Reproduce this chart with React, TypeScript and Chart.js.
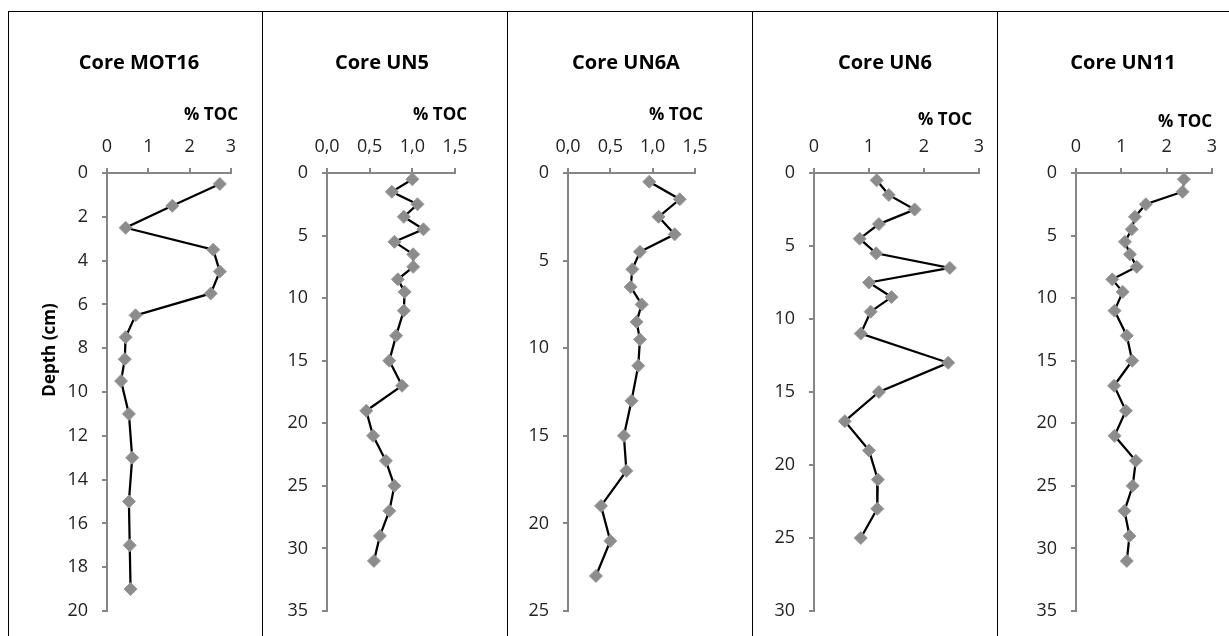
import React, { useEffect, useRef } from 'react';
import { Chart, registerables } from 'chart.js';

Chart.register(...registerables);

// ---------- data ----------
const coreNames = ['Core MOT16', 'Core UN5', 'Core UN6A', 'Core UN6', 'Core UN11'];
const xAxisTitle = '% TOC';
const yAxisTitle = 'Depth (cm)';

const depthMOT16 = [0.5, 1.5, 2.5, 3.5, 4.5, 5.5, 6.5, 7.5, 8.5, 9.5, 11, 13, 15, 17, 19];
const tocMOT16 = [2.73, 1.58, 0.45, 2.57, 2.73, 2.51, 0.69, 0.45, 0.43, 0.34, 0.53, 0.61, 0.53, 0.55, 0.57];

const depthUN5 = [0.5, 1.5, 2.5, 3.5, 4.5, 5.5, 6.5, 7.5, 8.5, 9.5, 11, 13, 15, 17, 19, 21, 23, 25, 27, 29, 31];
const tocUN5 = [1.0, 0.76, 1.06, 0.9, 1.13, 0.79, 1.01, 1.01, 0.83, 0.91, 0.9, 0.81, 0.73, 0.88, 0.46, 0.54, 0.69, 0.79, 0.73, 0.62, 0.55];

const depthUN6A = [0.5, 1.5, 2.5, 3.5, 4.5, 5.5, 6.5, 7.5, 8.5, 9.5, 11, 13, 15, 17, 19, 21, 23];
const tocUN6A = [0.96, 1.32, 1.07, 1.26, 0.85, 0.76, 0.74, 0.87, 0.81, 0.85, 0.83, 0.75, 0.66, 0.69, 0.39, 0.5, 0.33];

const depthUN6 = [0.5, 1.5, 2.5, 3.5, 4.5, 5.5, 6.5, 7.5, 8.5, 9.5, 11, 13, 15, 17, 19, 21, 23, 25];
const tocUN6 = [1.14, 1.36, 1.83, 1.18, 0.83, 1.13, 2.47, 1.0, 1.41, 1.03, 0.85, 2.44, 1.18, 0.56, 1.0, 1.16, 1.15, 0.85];

const depthUN11 = [0.5, 1.5, 2.5, 3.5, 4.5, 5.5, 6.5, 7.5, 8.5, 9.5, 11, 13, 15, 17, 19, 21, 23, 25, 27, 29, 31];
const tocUN11 = [2.38, 2.35, 1.54, 1.3, 1.23, 1.08, 1.19, 1.34, 0.8, 1.03, 0.85, 1.12, 1.24, 0.84, 1.1, 0.85, 1.32, 1.25, 1.07, 1.18, 1.12];

const depthSeries = [depthMOT16, depthUN5, depthUN6A, depthUN6, depthUN11];
const tocSeries = [tocMOT16, tocUN5, tocUN6A, tocUN6, tocUN11];

const tocMax = [3, 1.5, 1.5, 3, 3];
const tocStep = [1, 0.5, 0.5, 1, 1];
const tocDecimals = [0, 1, 1, 0, 0];
const depthMax = [20, 35, 25, 30, 35];
const depthStep = [2, 5, 5, 5, 5];

// ---------- layout (page pixels) ----------
const PAGE_W = 1229;
const PAGE_H = 636;
const TOP_LINE = 11;
const borderXs = [8, 262, 507, 752, 997];
const plotLeft = [107, 327, 568, 814, 1076];
const plotRight = [231, 455, 695, 979, 1212];
const PLOT_TOP = 173;
const PLOT_BOTTOM = 611;
const titleCX = [139, 382, 626, 885, 1123];
const TITLE_CY = 63;
const tocRight = [238, 467, 703, 972, 1212];
const tocCY = [115, 115, 115, 120, 122];
const DEPTH_CX = 50;
const DEPTH_CY = 350;
const Y_W = 60;
const X_H = 50;

const FONT = '"Open Sans", "Liberation Sans", sans-serif';
const AXIS_GRAY = '#868686';
const TICK_COLOR = '#222222';

function Panel({ i }: { i: number }) {
  const ref = useRef<HTMLCanvasElement | null>(null);
  const cl = borderXs[i] + 1;
  const cr = i < borderXs.length - 1 ? borderXs[i + 1] : PAGE_W;
  const ct = TOP_LINE + 1;
  const cw = cr - cl;
  const ch = PAGE_H - ct;

  useEffect(() => {
    if (!ref.current) return;
    const textPlugin = {
      id: 'panelText' + i,
      afterDraw(chart: any) {
        const ctx = chart.ctx as CanvasRenderingContext2D;
        ctx.save();
        ctx.fillStyle = '#000';
        ctx.textBaseline = 'middle';
        ctx.font = `bold 20px ${FONT}`;
        ctx.textAlign = 'center';
        ctx.fillText(coreNames[i], titleCX[i] - cl, TITLE_CY - ct);
        ctx.font = `bold 17px ${FONT}`;
        ctx.textAlign = 'right';
        ctx.fillText(xAxisTitle, tocRight[i] - cl, tocCY[i] - ct);
        if (i === 0) {
          ctx.translate(DEPTH_CX - cl, DEPTH_CY - ct);
          ctx.rotate(-Math.PI / 2);
          ctx.textAlign = 'center';
          ctx.fillText(yAxisTitle, 0, 0);
        }
        ctx.restore();
      },
    };

    const data = depthSeries[i].map((d, j) => ({ x: tocSeries[i][j], y: d }));
    const gridOpts = {
      display: true,
      drawOnChartArea: false,
      drawTicks: true,
      tickLength: 5,
      color: AXIS_GRAY,
      lineWidth: 2,
    };
    const borderOpts = { display: true, color: AXIS_GRAY, width: 2 };

    const chart = new Chart(ref.current, {
      type: 'scatter',
      data: {
        datasets: [
          {
            data,
            showLine: true,
            borderColor: '#000000',
            borderWidth: 2.25,
            pointStyle: 'rectRot',
            pointRadius: 6.5,
            pointBackgroundColor: '#8c8c8c',
            pointBorderColor: '#999999',
            pointBorderWidth: 1,
            tension: 0,
          } as any,
        ],
      },
      options: {
        responsive: false,
        animation: false,
        devicePixelRatio: 1,
        layout: {
          padding: {
            left: plotLeft[i] - cl - Y_W,
            right: cr - plotRight[i],
            top: PLOT_TOP - ct - X_H,
            bottom: ct + ch - PLOT_BOTTOM,
          },
        },
        plugins: {
          legend: { display: false },
          title: { display: false },
          tooltip: { enabled: false },
        },
        scales: {
          x: {
            type: 'linear',
            position: 'top',
            min: 0,
            max: tocMax[i],
            afterFit: (s: any) => {
              s.height = X_H;
            },
            ticks: {
              stepSize: tocStep[i],
              padding: 10,
              color: TICK_COLOR,
              font: { family: FONT, size: 18 },
              maxRotation: 0,
              callback: (v: any) => Number(v).toFixed(tocDecimals[i]).replace('.', ','),
            },
            grid: gridOpts,
            border: borderOpts,
          },
          y: {
            type: 'linear',
            reverse: true,
            min: 0,
            max: depthMax[i],
            afterFit: (s: any) => {
              s.width = Y_W;
            },
            ticks: {
              stepSize: depthStep[i],
              padding: 14,
              color: TICK_COLOR,
              font: { family: FONT, size: 18 },
            },
            grid: gridOpts,
            border: borderOpts,
          },
        },
      } as any,
      plugins: [textPlugin],
    });
    return () => chart.destroy();
  }, [i]);

  return (
    <canvas
      ref={ref}
      width={cw}
      height={ch}
      style={{ position: 'absolute', left: cl, top: ct, width: cw, height: ch }}
    />
  );
}

export default function App() {
  return (
    <div
      style={{
        position: 'fixed',
        left: 0,
        top: 0,
        width: PAGE_W,
        height: PAGE_H,
        overflow: 'hidden',
        background: '#ffffff',
      }}
    >
      <div style={{ position: 'absolute', left: borderXs[0], top: TOP_LINE, width: PAGE_W - borderXs[0], height: 1, background: '#000' }} />
      {borderXs.map((x) => (
        <div key={x} style={{ position: 'absolute', left: x, top: TOP_LINE, width: 1, height: PAGE_H - TOP_LINE, background: '#000' }} />
      ))}
      {coreNames.map((_, i) => (
        <Panel key={i} i={i} />
      ))}
    </div>
  );
}
